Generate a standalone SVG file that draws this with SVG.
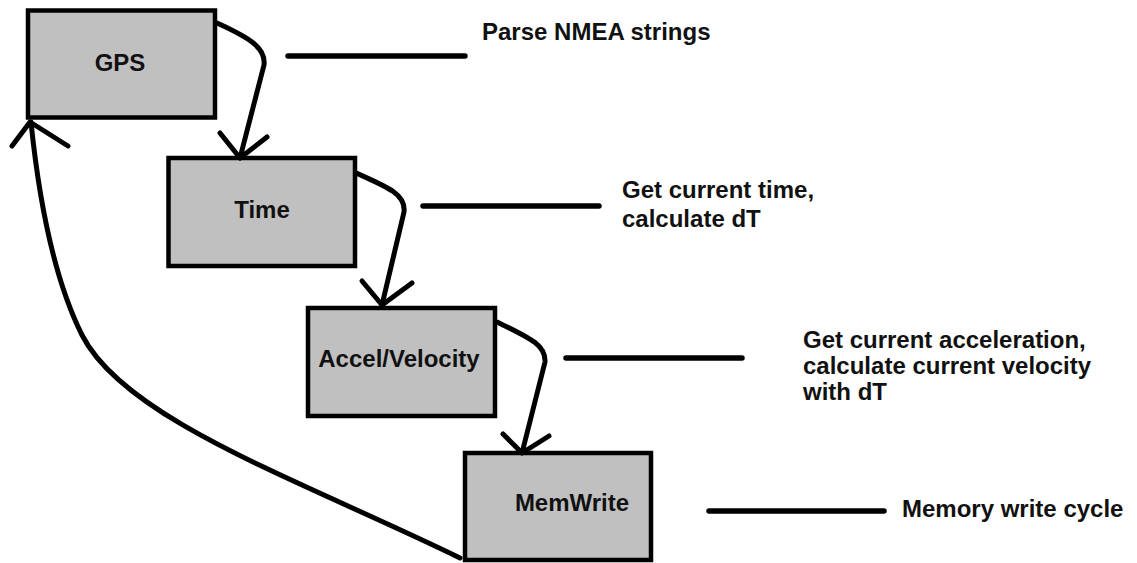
<svg xmlns="http://www.w3.org/2000/svg" width="1137" height="563" viewBox="0 0 1137 563">
<style>
.box{fill:#c0c0c0;stroke:#000;stroke-width:4.5}
.lbl{font-family:"Liberation Sans",Arial,sans-serif;font-weight:bold;font-size:24px;fill:#111}
.c{text-anchor:middle}
.con{fill:none;stroke:#000;stroke-width:5;stroke-linecap:round;stroke-linejoin:round}
.dash{stroke:#000;stroke-width:5.5;stroke-linecap:round}
</style>
<rect width="1137" height="563" fill="#fff"/>
<g id="gps"><rect class="box" x="28" y="10.5" width="187" height="107"/><text class="lbl c" x="120" y="71">GPS</text></g>
<g id="time"><rect class="box" x="168.5" y="158" width="186.5" height="108"/><text class="lbl c" x="262" y="218">Time</text></g>
<g id="accel"><rect class="box" x="308" y="308" width="187" height="108"/><text class="lbl c" x="399" y="367">Accel/Velocity</text></g>
<g id="memwrite"><rect class="box" x="465" y="453" width="186" height="107"/><text class="lbl c" x="572" y="511">MemWrite</text></g>
<g id="connectors">
<path class="con" d="M217,23 C250,38 266,48 264,65 L240,158"/>
<path class="con" d="M220,133 L240,158 L267,137"/>
<path class="con" d="M356,173 C390,188 406,195 404,212 L382,305"/>
<path class="con" d="M362,281 L382,305 L412,283"/>
<path class="con" d="M497,322 C530,338 546,345 545,362 L522,453"/>
<path class="con" d="M503,434 L522,453 L549,436"/>
<path class="con" d="M460,558 C300,480 125,420 82,335 C62,295 42,230 31,122"/>
<path class="con" d="M12,146 L30,122 L68,146"/>
</g>
<g id="notes">
<line class="dash" x1="288" y1="56" x2="465" y2="56"/>
<text class="lbl" x="482" y="40">Parse NMEA strings</text>
<line class="dash" x1="423" y1="206" x2="599" y2="206"/>
<text class="lbl" x="622" y="198">Get current time,</text>
<text class="lbl" x="622" y="227">calculate dT</text>
<line class="dash" x1="566" y1="358" x2="742" y2="358"/>
<text class="lbl" x="803" y="348">Get current acceleration,</text>
<text class="lbl" x="803" y="374">calculate current velocity</text>
<text class="lbl" x="803" y="400">with dT</text>
<line class="dash" x1="709" y1="511" x2="884" y2="511"/>
<text class="lbl" x="902" y="517">Memory write cycle</text>
</g>
</svg>
